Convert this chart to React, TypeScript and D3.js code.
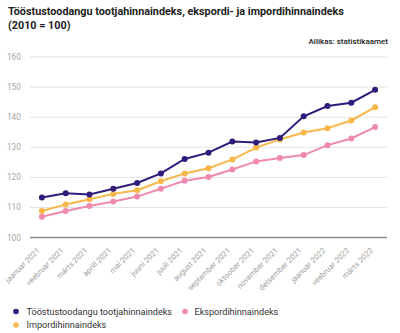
import React from "react";
import * as d3 from "d3";

const months = [
  "jaanuar 2021", "veebruar 2021", "märts 2021", "aprill 2021", "mai 2021",
  "juuni 2021", "juuli 2021", "august 2021", "september 2021", "oktoober 2021",
  "november 2021", "detsember 2021", "jaanuar 2022", "veebruar 2022", "märts 2022",
];
const producer = [113.3, 114.7, 114.3, 116.2, 118.1, 121.3, 126.1, 128.2, 131.9, 131.6, 133.1, 140.3, 143.7, 144.8, 149.1];
const importIdx = [108.8, 111.0, 112.7, 114.5, 115.7, 118.7, 121.3, 123.0, 125.9, 129.9, 132.6, 134.9, 136.3, 138.9, 143.3];
const exportIdx = [106.9, 108.8, 110.5, 112.0, 113.6, 116.2, 118.9, 120.1, 122.6, 125.3, 126.4, 127.4, 130.7, 132.9, 136.7];
const yTicks = [100, 110, 120, 130, 140, 150, 160];
const seriesNames = ["Tööstustoodangu tootjahinnaindeks", "Ekspordihinnaindeks", "Impordihinnaindeks"];
const colors = ["#311b7b", "#ef8aae", "#f8b74a"];

const W = 400, H = 333;
const L = 30, R = 387, T = 57, B = 237.5;

export default function App() {
  const x = d3.scalePoint<string>().domain(months).range([L, R]).padding(0.5);
  const y = d3.scaleLinear().domain([100, 160]).range([B, T]);
  const line = d3.line<number>().x((_, i) => x(months[i])!).y((d) => y(d));
  const series = [
    { name: seriesNames[2], data: importIdx, color: colors[2] },
    { name: seriesNames[1], data: exportIdx, color: colors[1] },
    { name: seriesNames[0], data: producer, color: colors[0] },
  ];
  const font = "Roboto, sans-serif";
  return (
    <svg width={W} height={H} style={{ position: "absolute", left: 0, top: 0, background: "#fff" }} fontFamily={font}>
      <text x={8} y={15} fontSize={10.8} fontWeight={700} fill="#222">
        Tööstustoodangu tootjahinnaindeks, ekspordi- ja impordihinnaindeks
      </text>
      <text x={8} y={29} fontSize={10.8} fontWeight={700} fill="#222">(2010 = 100)</text>
      <text x={388} y={43.5} fontSize={8} fontWeight={500} fill="#222" textAnchor="end">Allikas: statistikaamet</text>
      {yTicks.map((t) => (
        <g key={t}>
          {t !== 100 && <line x1={L} x2={R} y1={y(t)} y2={y(t)} stroke="#e3e3e3" strokeWidth={1} />}
          <text x={7} y={y(t) + 3} fontSize={8.2} fill="#a6a6a6">{t}</text>
        </g>
      ))}
      <line x1={L} x2={R} y1={y(100)} y2={y(100)} stroke="#8a8a8a" strokeWidth={1.5} />
      {months.map((m) => (
        <text key={m} transform={`translate(${x(m)! - 1.5},${y(100) + 13.5}) rotate(-45)`} fontSize={7.8} fill="#a0a0a0" textAnchor="end">{m}</text>
      ))}
      {series.map((s) => (
        <g key={s.name}>
          <path d={line(s.data)!} fill="none" stroke={s.color} strokeWidth={2} />
          {s.data.map((v, i) => (
            <circle key={i} cx={x(months[i])!} cy={y(v)} r={3} fill={s.color} />
          ))}
        </g>
      ))}
      <g fontSize={9.1} fill="#333">
        <circle cx={16} cy={311.5} r={2.8} fill={colors[0]} />
        <text x={26.5} y={314.8} fill="#333">{seriesNames[0]}</text>
        <circle cx={185} cy={311.5} r={2.8} fill={colors[1]} />
        <text x={194.5} y={314.8} fill="#333">{seriesNames[1]}</text>
        <circle cx={16} cy={325} r={2.8} fill={colors[2]} />
        <text x={26.5} y={328.3} fill="#333">{seriesNames[2]}</text>
      </g>
    </svg>
  );
}
